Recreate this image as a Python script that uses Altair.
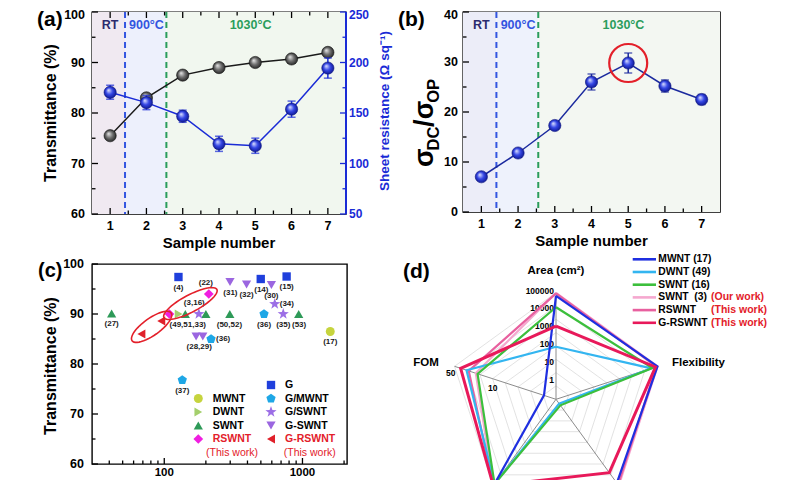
import altair as alt
import numpy as np
import pandas as pd

FONT = "Liberation Sans"
BLUE = "#1a2bd6"
NAVY = "#1b2a9e"
RED = "#e3202a"

# ======================= DATA =======================
# --- panels (a) and (b) ---
samples = [1, 2, 3, 4, 5, 6, 7]
transmittance = [75.5, 83.0, 87.5, 89.0, 90.0, 90.7, 92.0]
sheet_resistance = [170.5, 160.3, 146.8, 119.5, 117.6, 153.8, 194.5]
sheet_resistance_err = [7.0, 7.0, 6.0, 7.5, 7.5, 8.0, 10.0]
dc_op_ratio = [7.05, 11.8, 17.3, 26.0, 29.8, 25.2, 22.5]
dc_op_ratio_err = [0.5, 0.5, 0.6, 1.6, 2.0, 1.2, 1.0]
regions = ["RT", "900°C", "1030°C"]
region_edges = [0.5, 1.41, 2.55, 7.5]
best_sample = 5

sample_ticks = [1, 2, 3, 4, 5, 6, 7]
sample_minor = [1.5, 2.5, 3.5, 4.5, 5.5, 6.5]
trans_ticks = [60, 70, 80, 90, 100]
trans_minor = [65, 75, 85, 95]
res_ticks = [50, 100, 150, 200, 250]
res_minor = [75, 125, 175, 225]
ratio_ticks = [0, 10, 20, 30, 40]
ratio_minor = [5, 15, 25, 35]

# --- panel (c) ---
mwnt_rs, mwnt_t = [1589], [86.5]
dwnt_rs, dwnt_t = [127], [90.0]
swnt_rs, swnt_t = [41.6, 142, 200, 298, 939], [90.1, 90.0, 90.0, 90.0, 90.0]
rswnt_rs, rswnt_t = [109, 210], [90.0, 94.0]
g_rs, g_t = [126.7, 499, 768], [97.4, 97.0, 97.5]
g_mwnt_rs, g_mwnt_t = [527, 218, 135], [90.0, 85.0, 76.8]
g_on_swnt_rs, g_on_swnt_t = [178, 630, 726], [90.0, 92.0, 90.0]
g_swnt_rs, g_swnt_t = [299, 394, 596, 170, 190], [96.4, 95.9, 95.8, 85.5, 85.5]
g_rswnt_rs, g_rswnt_t = [68.3, 95.1], [86.0, 88.6]

ref_below_text = ["(4)", "(14)", "(15)", "(31)", "(32)", "(30)", "(35)", "(53)", "(36)",
                  "(50,52)", "(17)", "(27)", "(49,51,33)", "(28,29)", "(37)"]
ref_below_rs = [126.7, 504, 768, 301, 394, 596, 726, 945, 527, 296, 1589, 41.6, 148, 179, 135]
ref_below_t = [97.4, 97.0, 97.5, 96.4, 95.9, 95.8, 90.0, 90.0, 90.0, 90.0, 86.5, 90.1, 90.0, 85.5, 76.8]
ref_above_text = ["(22)", "(3,16)"]
ref_above_rs = [200, 165]
ref_above_t = [94.0, 90.0]
ref_right_text = ["(34)", "(36)"]
ref_right_rs = [630, 218]
ref_right_t = [92.0, 85.0]
circled_rs = [81.0, 154.6]
circled_t = [87.43, 92.09]

rs_ticks = [100, 1000]
rs_minor = [40, 50, 60, 70, 80, 90, 200, 300, 400, 500, 600, 700, 800, 900, 2000]
c_legend_left = ["MWNT", "DWNT", "SWNT", "RSWNT"]
c_legend_right = ["G", "G/MWNT", "G/SWNT", "G-SWNT", "G-RSWNT"]
c_this_work = ["RSWNT", "G-RSWNT"]
this_work_text = "(This work)"

# --- panel (d) ---
radar_series = ["MWNT (17)", "DWNT (49)", "SWNT (16)", "SWNT\u00a0\u00a0(3)", "RSWNT", "G-RSWNT"]
radar_notes = ["", "", "", "(Our work)", "(This work)", "(This work)"]
radar_area = [66000, 90, 15000, 95000, 90000, 1300]
radar_flexibility = [1.0, 0.94, 0.95, 1.0, 0.99, 0.98]
radar_axis3 = [0.97, 0.05, 0.07, 1.0, 0.99, 0.85]
radar_axis4 = [0.98, 0.98, 0.98, 1.0, 1.0, 1.0]
radar_fom = [0.7, 37, 21, 23, 33, 50]
area_ticks = [1, 10, 100, 1000, 10000, 100000]
radar_axis_names = ["Area (cm²)", "Flexibility", "FOM"]

# ======================= STYLE =======================
WA, HA = 254, 202
WB, HB = 257, 200
WC, HC = 255, 200
WD, HD = 300, 207

BG_A = ["#f0e9f1", "#edf0fc", "#f1f7ef"]
BG_B = ["#ecedf8", "#eef2fc", "#f3f7f2"]
REGION_TEXT = ["#2b2b6e", "#3355e0", "#2a9d5c"]
EDGE_COLORS = ["#3355e0", "#2a9d5c"]

PENTAGON = "M0,-1L0.951,-0.309L0.588,0.809L-0.588,0.809L-0.951,-0.309Z"
STAR = ("M0,-1L0.235,-0.324L0.951,-0.309L0.38,0.124L0.588,0.809L0,0.4L-0.588,0.809"
        "L-0.38,0.124L-0.951,-0.309L-0.235,-0.324Z")
C_STYLE = {
    "MWNT": ("circle", "#c6d43e", 80),
    "DWNT": ("triangle-right", "#a4cf6c", 80),
    "SWNT": ("triangle-up", "#2e9a58", 85),
    "RSWNT": ("diamond", "#f01ee0", 95),
    "G": ("square", "#1f3fdc", 70),
    "G/MWNT": (PENTAGON, "#1ea7e6", 95),
    "G/SWNT": (STAR, "#9c6ee6", 140),
    "G-SWNT": ("triangle-down", "#9b66e0", 85),
    "G-RSWNT": ("triangle-left", "#e0202a", 85),
}
RADAR_COLORS = dict(zip(radar_series, ["#1f2fe0", "#33b5f0", "#3cbf3c", "#f5a8cf", "#e8609f", "#e8195a"]))
RADAR_WIDTH = {"G-RSWNT": 3.0}
RADAR_ORDER = [radar_series[i] for i in [3, 4, 1, 2, 0, 5]]


# ======================= HELPERS =======================
def vticks(values, scale, H, length, top=False, color="black"):
    y0, y1 = (0, length) if top else (H, H - length)
    return alt.Chart(pd.DataFrame({"v": values})).mark_rule(color=color, strokeWidth=1.3).encode(
        x=alt.X("v:Q", scale=scale, axis=None), y=alt.value(y0), y2=alt.value(y1))


def hticks(values, scale, W, length, right=False, color="black"):
    x0, x1 = (W, W - length) if right else (0, length)
    return alt.Chart(pd.DataFrame({"v": values})).mark_rule(color=color, strokeWidth=1.3).encode(
        y=alt.Y("v:Q", scale=scale, axis=None), x=alt.value(x0), x2=alt.value(x1))


def xlabels(values, scale, ypix, size=12.5, color="black", baseline="middle"):
    df = pd.DataFrame({"v": values, "t": [str(v) for v in values]})
    return alt.Chart(df).mark_text(font=FONT, fontWeight="bold", fontSize=size, color=color,
                                   baseline=baseline).encode(
        x=alt.X("v:Q", scale=scale, axis=None), y=alt.value(ypix), text="t:N")


def ylabels(values, scale, xpix, align, color="black", size=12.5, top_shift=0.0):
    df = pd.DataFrame({"v": values, "t": [str(v) for v in values]})
    top = max(values)
    out = []
    for part, shift in [(df[df.v != top], 0.0), (df[df.v == top], top_shift)]:
        out.append(alt.Chart(part).mark_text(font=FONT, fontWeight="bold", fontSize=size, color=color,
                                             align=align, baseline="middle", dy=shift).encode(
            y=alt.Y("v:Q", scale=scale, axis=None), x=alt.value(xpix), text="t:N"))
    return out


def free_text(txt, x, y, size, color="black", angle=0, align="center", baseline="middle",
              weight="bold"):
    return alt.Chart(pd.DataFrame({"t": [txt]})).mark_text(
        font=FONT, fontWeight=weight, fontSize=size, color=color, angle=angle, align=align,
        baseline=baseline).encode(x=alt.value(x), y=alt.value(y), text="t:N")


def panel_label(txt, x, y, size=21):
    return free_text(txt, x, y, size, align="left", baseline="top")


def sphere(light, mid, dark):
    return alt.RadialGradient(
        gradient="radial", x1=0.36, y1=0.32, r1=0.0, x2=0.5, y2=0.5, r2=0.55,
        stops=[alt.GradientStop(offset=0, color=light),
               alt.GradientStop(offset=0.5, color=mid),
               alt.GradientStop(offset=1, color=dark)])


GRAY_SPHERE = sphere("#ececec", "#707070", "#1e1e1e")
BLUE_SPHERE = sphere("#e4e8ff", "#3547e6", "#0b1488")

xs_ab = alt.Scale(domain=[0.5, 7.5], nice=False, zero=False)
ys_t = alt.Scale(domain=[60, 100], nice=False, zero=False)
ys_r = alt.Scale(domain=[50, 250], nice=False, zero=False)
ys_q = alt.Scale(domain=[0, 40], nice=False, zero=False)


def region_layers(fills, H):
    df = pd.DataFrame({"region": regions, "x0": region_edges[:-1], "x1": region_edges[1:],
                       "fill": fills, "pos": [1.0, 2.0, 4.87], "tc": REGION_TEXT})
    bg = alt.Chart(df).mark_rect().encode(
        x=alt.X("x0:Q", scale=xs_ab, axis=None), x2="x1:Q",
        y=alt.value(0), y2=alt.value(H), color=alt.Color("fill:N", scale=None))
    dfe = pd.DataFrame({"edge": region_edges[1:3], "c": EDGE_COLORS})
    dash = alt.Chart(dfe).mark_rule(strokeDash=[6, 4], strokeWidth=2).encode(
        x=alt.X("edge:Q", scale=xs_ab, axis=None), color=alt.Color("c:N", scale=None))
    txt = alt.Chart(df).mark_text(font=FONT, fontWeight="bold", fontSize=12.5).encode(
        x=alt.X("pos:Q", scale=xs_ab, axis=None), y=alt.value(13), text="region:N",
        color=alt.Color("tc:N", scale=None))
    return [bg, dash, txt]


def sample_axis_layers(W, H):
    return [xlabels(sample_ticks, xs_ab, H + 12),
            free_text("Sample number", W / 2, H + 29, 15)]


df_ab = pd.DataFrame({"sample": samples, "T": transmittance, "R": sheet_resistance, "Q": dc_op_ratio})
df_ab["R_lo"] = df_ab["R"] - np.array(sheet_resistance_err)
df_ab["R_hi"] = df_ab["R"] + np.array(sheet_resistance_err)
df_ab["Q_lo"] = df_ab["Q"] - np.array(dc_op_ratio_err)
df_ab["Q_hi"] = df_ab["Q"] + np.array(dc_op_ratio_err)

# ======================= PANEL (a) =======================
t_line = alt.Chart(df_ab).mark_line(color="#1a1a1a", strokeWidth=1.5).encode(
    x=alt.X("sample:Q", scale=xs_ab, axis=None), y=alt.Y("T:Q", scale=ys_t, axis=None))
t_pts = alt.Chart(df_ab).mark_circle(size=150, opacity=1, fill=GRAY_SPHERE, stroke="#111111",
                                     strokeWidth=0.6).encode(
    x=alt.X("sample:Q", scale=xs_ab, axis=None), y=alt.Y("T:Q", scale=ys_t, axis=None))
anchor = alt.Chart(pd.DataFrame({"a": [0]})).mark_rule(opacity=0).encode(
    x=alt.value(-83), x2=alt.value(-83), y=alt.value(-3), y2=alt.value(5))

left_a = alt.layer(
    *region_layers(BG_A, HA), t_line, t_pts,
    vticks(sample_ticks, xs_ab, HA, 6), vticks(sample_minor, xs_ab, HA, 3.5),
    vticks(sample_ticks, xs_ab, HA, 6, top=True), vticks(sample_minor, xs_ab, HA, 3.5, top=True),
    hticks(trans_ticks, ys_t, WA, 6), hticks(trans_minor, ys_t, WA, 3.5),
    *ylabels(trans_ticks, ys_t, -7, "right", top_shift=3),
    free_text("Transmittance (%)", -41, HA / 2, 16, angle=270),
    *sample_axis_layers(WA, HA),
    anchor, panel_label("(a)", -55, -3))

r_err = alt.Chart(df_ab).mark_errorbar(ticks=True, color=BLUE, thickness=1.5, size=8).encode(
    x=alt.X("sample:Q", scale=xs_ab, axis=None),
    y=alt.Y("R_lo:Q", scale=ys_r, axis=None), y2="R_hi:Q")
r_line = alt.Chart(df_ab).mark_line(color=BLUE, strokeWidth=1.5).encode(
    x=alt.X("sample:Q", scale=xs_ab, axis=None), y=alt.Y("R:Q", scale=ys_r, axis=None))
r_pts = alt.Chart(df_ab).mark_circle(size=150, opacity=1, fill=BLUE_SPHERE, stroke="#0a1280",
                                     strokeWidth=0.6).encode(
    x=alt.X("sample:Q", scale=xs_ab, axis=None), y=alt.Y("R:Q", scale=ys_r, axis=None))
r_domain = alt.Chart(pd.DataFrame({"a": [0]})).mark_rule(color=BLUE, strokeWidth=2).encode(
    x=alt.value(WA), x2=alt.value(WA), y=alt.value(0), y2=alt.value(HA))
right_a = alt.layer(r_err, r_line, r_pts, r_domain,
                    hticks(res_ticks, ys_r, WA, 6, right=True, color=BLUE),
                    hticks(res_minor, ys_r, WA, 3.5, right=True, color=BLUE),
                    *ylabels(res_ticks, ys_r, WA + 3, "left", color=BLUE, size=12, top_shift=3),
                    free_text("Sheet resistance (Ω sq⁻¹)", WA + 38.5, HA / 2 - 2, 13.5,
                              color=BLUE, angle=270))

panel_a = alt.layer(left_a, right_a).resolve_scale(y="independent").properties(width=WA, height=HA)

# ======================= PANEL (b) =======================
q_err = alt.Chart(df_ab).mark_errorbar(ticks=True, color=NAVY, thickness=1.5, size=8).encode(
    x=alt.X("sample:Q", scale=xs_ab, axis=None),
    y=alt.Y("Q_lo:Q", scale=ys_q, axis=None), y2="Q_hi:Q")
q_line = alt.Chart(df_ab).mark_line(color=NAVY, strokeWidth=1.5).encode(
    x=alt.X("sample:Q", scale=xs_ab, axis=None), y=alt.Y("Q:Q", scale=ys_q, axis=None))
q_pts = alt.Chart(df_ab).mark_circle(size=150, opacity=1, fill=BLUE_SPHERE, stroke="#0a1280",
                                     strokeWidth=0.6).encode(
    x=alt.X("sample:Q", scale=xs_ab, axis=None), y=alt.Y("Q:Q", scale=ys_q, axis=None))
q_ring = alt.Chart(df_ab).transform_filter(alt.datum.sample == best_sample).mark_point(
    shape="circle", size=1444, filled=False, color=RED, strokeWidth=2.2, opacity=1).encode(
    x=alt.X("sample:Q", scale=xs_ab, axis=None), y=alt.Y("Q:Q", scale=ys_q, axis=None))

sigma_layers = []
for txt, fs, ddx, ddy in [("σ", 27, 0, 0), ("DC", 16.5, 16.5, 6), ("/", 27, 40.1, 0),
                          ("σ", 27, 47.7, 0), ("OP", 16.5, 64.2, 6)]:
    sigma_layers.append(alt.Chart(pd.DataFrame({"t": [txt]})).mark_text(
        font=FONT, fontWeight="bold", fontSize=fs, angle=270, align="left",
        baseline="alphabetic", dx=ddx, dy=ddy, color="black").encode(
        x=alt.value(-30), y=alt.value(155), text="t:N"))

panel_b = alt.layer(
    *region_layers(BG_B, HB), q_err, q_line, q_pts, q_ring,
    vticks(sample_ticks, xs_ab, HB, 6), vticks(sample_minor, xs_ab, HB, 3.5),
    hticks(ratio_ticks, ys_q, WB, 6), hticks(ratio_minor, ys_q, WB, 3.5),
    *ylabels(ratio_ticks, ys_q, -5, "right", top_shift=3),
    *sample_axis_layers(WB, HB),
    *sigma_layers, panel_label("(b)", -65, -3)).properties(width=WB, height=HB)

# ======================= PANEL (c) =======================
xs_c = alt.Scale(type="log", domain=[30, 2100], nice=False)
ys_c = alt.Scale(domain=[60, 100], nice=False, zero=False)

rows = []
for grp, xs, ys in [("G-RSWNT", g_rswnt_rs, g_rswnt_t), ("SWNT", swnt_rs, swnt_t),
                    ("DWNT", dwnt_rs, dwnt_t), ("MWNT", mwnt_rs, mwnt_t), ("G", g_rs, g_t),
                    ("G/MWNT", g_mwnt_rs, g_mwnt_t), ("G/SWNT", g_on_swnt_rs, g_on_swnt_t),
                    ("G-SWNT", g_swnt_rs, g_swnt_t), ("RSWNT", rswnt_rs, rswnt_t)]:
    for xv, yv in zip(xs, ys):
        shp, col, sz = C_STYLE[grp]
        rows.append(dict(group=grp, rs=xv, t=yv, shape=shp, color=col, size=sz))
df_c = pd.DataFrame(rows)

c_pts = alt.Chart(df_c).mark_point(filled=True, opacity=1, strokeWidth=0).encode(
    x=alt.X("rs:Q", scale=xs_c, axis=None), y=alt.Y("t:Q", scale=ys_c, axis=None),
    shape=alt.Shape("shape:N", scale=None), color=alt.Color("color:N", scale=None),
    size=alt.Size("size:Q", scale=None))


def ref_labels(texts, xs, ys, **kw):
    df = pd.DataFrame({"t": texts, "rs": xs, "tv": ys})
    return alt.Chart(df).mark_text(font=FONT, fontSize=8, fontWeight="bold", color="#1a1a1a",
                                   **kw).encode(
        x=alt.X("rs:Q", scale=xs_c, axis=None), y=alt.Y("tv:Q", scale=ys_c, axis=None), text="t:N")


def ellipse_path(ratio):
    th = np.linspace(0, 2 * np.pi, 48, endpoint=False)
    return "M" + "L".join(f"{np.cos(a):.3f},{ratio * np.sin(a):.3f}" for a in th) + "Z"


ell_layers = []
for i, (semi_major, ang) in enumerate([(24, 324.5), (30, 332.0)]):
    dfe = pd.DataFrame({"rs": [circled_rs[i]], "t": [circled_t[i]]})
    ell_layers.append(alt.Chart(dfe).mark_point(
        shape=ellipse_path(8.5 / semi_major), size=4 * semi_major ** 2, angle=ang,
        filled=False, color=RED, strokeWidth=1.6, opacity=1).encode(
        x=alt.X("rs:Q", scale=xs_c, axis=None), y=alt.Y("t:Q", scale=ys_c, axis=None)))

main_c = alt.layer(
    c_pts,
    ref_labels(ref_below_text, ref_below_rs, ref_below_t, dy=10.5),
    ref_labels(ref_above_text, ref_above_rs, ref_above_t, dy=-11),
    ref_labels(ref_right_text, ref_right_rs, ref_right_t, dx=5, align="left"),
    *ell_layers,
    vticks(rs_ticks, xs_c, HC, 6), vticks(rs_minor, xs_c, HC, 3.5),
    hticks(trans_ticks, ys_c, WC, 6), hticks(trans_minor, ys_c, WC, 3.5),
    xlabels(rs_ticks, xs_c, HC + 2.5, size=11.5, baseline="top"),
    *ylabels(trans_ticks, ys_c, -8, "right"),
    free_text("Transmittance (%)", -41, HC / 2 + 2, 16, angle=270),
    panel_label("(c)", -54, -3, size=20))

leg_rows = [dict(name=g, col=0, row=i + 1) for i, g in enumerate(c_legend_left)] + \
           [dict(name=g, col=1, row=i) for i, g in enumerate(c_legend_right)]
df_leg = pd.DataFrame(leg_rows)
df_leg["shape"] = [C_STYLE[n][0] for n in df_leg["name"]]
df_leg["color"] = [C_STYLE[n][1] for n in df_leg["name"]]
df_leg["size"] = [C_STYLE[n][2] for n in df_leg["name"]]
df_leg["tcolor"] = [RED if n in c_this_work else "black" for n in df_leg["name"]]
df_note = df_leg[df_leg["name"].isin(c_this_work)].copy()
df_note["row"] = df_note["row"] + 1
df_note["note"] = this_work_text

leg_y = alt.Scale(domain=[0, 5], range=[121, 188.5], nice=False, zero=False)
leg_sym = alt.Chart(df_leg).mark_point(filled=True, opacity=1, strokeWidth=0).encode(
    x=alt.X("col:Q", scale=alt.Scale(domain=[0, 1], range=[106.3, 179], nice=False, zero=False), axis=None),
    y=alt.Y("row:Q", scale=leg_y, axis=None),
    shape=alt.Shape("shape:N", scale=None), color=alt.Color("color:N", scale=None),
    size=alt.Size("size:Q", scale=None))
leg_txt = alt.Chart(df_leg).mark_text(font=FONT, fontWeight="bold", fontSize=10.5, align="left").encode(
    x=alt.X("col:Q", scale=alt.Scale(domain=[0, 1], range=[120.7, 193], nice=False, zero=False), axis=None),
    y=alt.Y("row:Q", scale=leg_y, axis=None), text="name:N",
    color=alt.Color("tcolor:N", scale=None))
leg_note = alt.Chart(df_note).mark_text(font=FONT, fontSize=10.5, color=RED, align="center").encode(
    x=alt.X("col:Q", scale=alt.Scale(domain=[0, 1], range=[140, 217.7], nice=False, zero=False), axis=None),
    y=alt.Y("row:Q", scale=leg_y, axis=None), text="note:N")

panel_c = alt.layer(main_c, leg_sym, leg_txt, leg_note).resolve_scale(
    x="independent", y="independent").properties(width=WC, height=HC)

# ======================= PANEL (d) =======================
cx, cy, R = 93.0, 135.3, 106.7
xs_d = alt.Scale(domain=[-cx / R, (WD - cx) / R], nice=False, zero=False)
ys_d = alt.Scale(domain=[-(HD - cy) / R, cy / R], nice=False, zero=False)
ang5 = np.deg2rad(np.arange(5) * 72.0)


def area_r(a):
    return (np.log10(a) + 1) / 6


def fom_r(f):
    return 0.187 + 0.443 * np.log10(f)


ring_rows = []
for j in range(1, 9):
    for k in range(6):
        ring_rows.append(dict(ring=j, k=k, x=j / 8 * np.sin(ang5[k % 5]), y=j / 8 * np.cos(ang5[k % 5])))
rings = alt.Chart(pd.DataFrame(ring_rows)).mark_line(color="#dadada", strokeWidth=0.8).encode(
    x=alt.X("x:Q", scale=xs_d, axis=None), y=alt.Y("y:Q", scale=ys_d, axis=None),
    detail="ring:N", order="k:Q")
df_sp = pd.DataFrame({"x0": np.zeros(5), "y0": np.zeros(5), "x1": np.sin(ang5), "y1": np.cos(ang5)})
spokes = alt.Chart(df_sp).mark_rule(color="#8c8c8c", strokeWidth=1).encode(
    x=alt.X("x0:Q", scale=xs_d, axis=None), y=alt.Y("y0:Q", scale=ys_d, axis=None),
    x2="x1:Q", y2="y1:Q")

df_at = pd.DataFrame({"t": [str(v) for v in area_ticks], "x": np.zeros(len(area_ticks)),
                      "y": [area_r(v) for v in area_ticks]})
area_lbl = alt.Chart(df_at).mark_text(font=FONT, fontWeight="bold", fontSize=8.5, align="right",
                                      dx=-2, dy=-2, color="black").encode(
    x=alt.X("x:Q", scale=xs_d, axis=None), y=alt.Y("y:Q", scale=ys_d, axis=None), text="t:N")


def fom_tick_label(v, ddx, ddy):
    r = fom_r(v)
    df = pd.DataFrame({"t": [str(v)], "x": [r * np.sin(ang5[4])], "y": [r * np.cos(ang5[4])]})
    return alt.Chart(df).mark_text(font=FONT, fontWeight="bold", fontSize=8.5, dx=ddx, dy=ddy,
                                   color="black").encode(
        x=alt.X("x:Q", scale=xs_d, axis=None), y=alt.Y("y:Q", scale=ys_d, axis=None), text="t:N")


series_layers = []
for name in RADAR_ORDER:
    i = radar_series.index(name)
    rr = [area_r(radar_area[i]), radar_flexibility[i], radar_axis3[i], radar_axis4[i], fom_r(radar_fom[i])]
    pts = [dict(k=k, x=rr[k % 5] * np.sin(ang5[k % 5]), y=rr[k % 5] * np.cos(ang5[k % 5])) for k in range(6)]
    series_layers.append(alt.Chart(pd.DataFrame(pts)).mark_line(
        color=RADAR_COLORS[name], strokeWidth=RADAR_WIDTH.get(name, 2.2)).encode(
        x=alt.X("x:Q", scale=xs_d, axis=None), y=alt.Y("y:Q", scale=ys_d, axis=None), order="k:Q"))

axis_name_layers = []
for nm, idx, ddx, ddy in [(radar_axis_names[0], 0, 0, -21.6), (radar_axis_names[1], 1, 41, -3.6),
                          (radar_axis_names[2], 4, -28.5, -3.6)]:
    df = pd.DataFrame({"t": [nm], "x": [np.sin(ang5[idx])], "y": [np.cos(ang5[idx])]})
    axis_name_layers.append(alt.Chart(df).mark_text(
        font=FONT, fontWeight="bold", fontSize=11.5, dx=ddx, dy=ddy, color="black").encode(
        x=alt.X("x:Q", scale=xs_d, axis=None), y=alt.Y("y:Q", scale=ys_d, axis=None), text="t:N"))

radar = alt.layer(rings, spokes, area_lbl, fom_tick_label(50, -10, 4.4), fom_tick_label(10, 0.7, 9.2),
                  *series_layers, *axis_name_layers, panel_label("(d)", -60, -3))

df_dl = pd.DataFrame({"name": radar_series, "row": list(range(len(radar_series))),
                      "color": [RADAR_COLORS[n] for n in radar_series], "note": radar_notes})
dl_y = alt.Scale(domain=[0, 5], range=[-4.7, 58.8], nice=False, zero=False)
dl_line = alt.Chart(df_dl).mark_rule(strokeWidth=2.6).encode(
    x=alt.value(169.7), x2=alt.value(193), y=alt.Y("row:Q", scale=dl_y, axis=None),
    color=alt.Color("color:N", scale=None))
dl_txt = alt.Chart(df_dl).mark_text(font=FONT, fontWeight="bold", fontSize=10.3, align="left",
                                    color="black").encode(
    x=alt.value(195.3), y=alt.Y("row:Q", scale=dl_y, axis=None), text="name:N")
dl_note = alt.Chart(df_dl).transform_filter(alt.datum.note != "").mark_text(
    font=FONT, fontWeight="bold", fontSize=10.5, align="left", color=RED).encode(
    x=alt.value(248), y=alt.Y("row:Q", scale=dl_y, axis=None), text="note:N")

panel_d = alt.layer(radar, dl_line, dl_txt, dl_note).resolve_scale(
    x="independent", y="independent").properties(
    width=WD, height=HD, view=alt.ViewBackground(stroke="transparent", strokeWidth=0))

# ======================= ASSEMBLY =======================
chart = alt.concat(panel_a, panel_b, panel_c, panel_d, columns=2,
                   spacing={"row": 50, "column": 116}, bounds="flush").properties(
    padding={"left": 0, "top": 0, "right": 0, "bottom": 0}
).configure(font=FONT).configure_view(stroke="black", strokeWidth=1.4).configure_text(font=FONT)

chart.save("out.html", embed_options={"renderer": "svg", "actions": False})
